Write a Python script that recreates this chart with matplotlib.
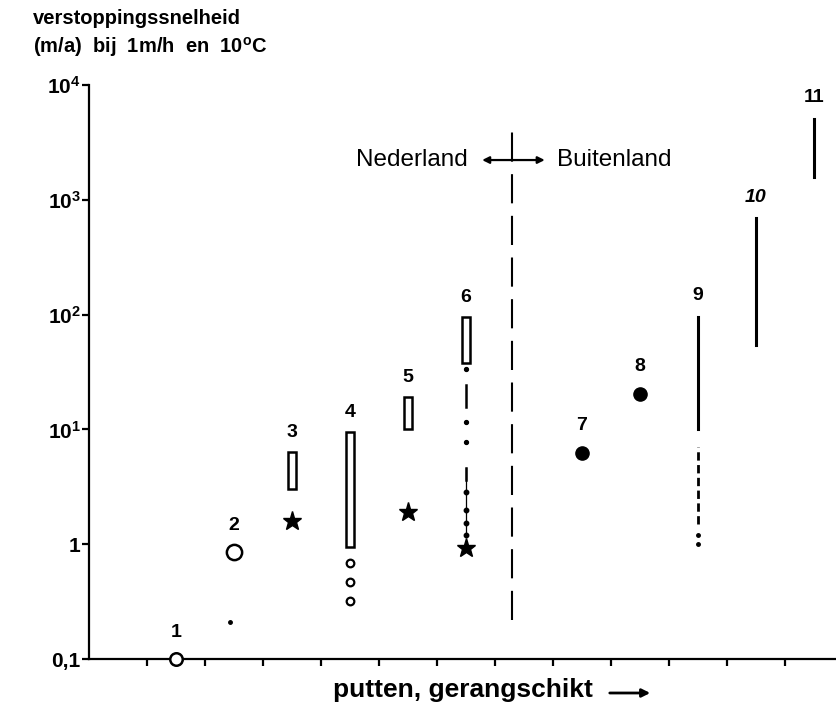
import numpy as np
import matplotlib
matplotlib.use('Agg')
import matplotlib.pyplot as plt

plt.rcParams['font.family'] = ['Liberation Sans', 'DejaVu Sans']
plt.rcParams['mathtext.fontset'] = 'custom'
plt.rcParams['mathtext.rm'] = 'Liberation Sans'
plt.rcParams['mathtext.bf'] = 'Liberation Sans:bold'
plt.rcParams['mathtext.default'] = 'bf'

# --- data (m/a), wells ranked 1..11 ---
wells = list(range(1, 12))
# slot on the ranked x axis (one empty slot between NL and abroad)
well_slot = [1, 2, 3, 4, 5, 6, 8, 9, 10, 11, 12]
slot = dict(zip(wells, well_slot))

# open bars: range of clogging rate
bar_wells = [3, 4, 5, 6]
bar_low = [3.0, 0.95, 10.0, 38.0]
bar_high = [6.3, 9.5, 19.0, 96.0]

# solid ranges (foreign wells)
line_wells = [9, 10, 11]
line_low = [10.0, 54.0, 1590.0]
line_high = [96.0, 690.0, 5100.0]

open_circle_wells = [1, 2]
open_circle_vals = [0.1, 0.85]
filled_wells = [7, 8]
filled_vals = [6.2, 20.3]
star_wells = [3, 5, 6]
star_vals = [1.6, 1.9, 0.93]
small_circle_vals_4 = [0.69, 0.47, 0.32]
dot_val_2 = 0.21

# well 6 lower tail
w6_dots = [33.6, 11.6, 7.8]
w6_dash_a = [15.7, 24.4]
w6_dash_b = [3.6, 4.6]
w6_beads = [2.85, 2.0, 1.53, 1.2]

# well 9 lower tail
w9_dash = [1.5, 7.0]
w9_dots = [1.2, 1.0]

yticks = [0.1, 1, 10, 100, 1000, 10000]
ytick_labels = ['0,1', '1', r'$10^{1}$', r'$10^{2}$', r'$10^{3}$', r'$10^{4}$']


def xpos(w):
    return slot[w] + 0.5


fig = plt.figure(figsize=(8.37, 7.09), dpi=100)
ax = fig.add_axes([89 / 837, 50 / 709, 748 / 837, 574 / 709])
ax.set_yscale('log')
ax.set_ylim(0.1, 10000)
ax.set_xlim(0, 12.9)

for s in ['top', 'right']:
    ax.spines[s].set_visible(False)
for s in ['left', 'bottom']:
    ax.spines[s].set_linewidth(1.6)

ax.set_yticks(yticks)
ax.set_yticklabels(ytick_labels, fontsize=15, fontweight='bold')
ax.yaxis.set_minor_locator(matplotlib.ticker.NullLocator())
ax.set_xticks(range(1, 13))
ax.set_xticklabels([])
ax.tick_params(axis='both', direction='out', length=5, width=1.6, pad=1)

# open bars
ax.bar([xpos(w) for w in bar_wells], np.array(bar_high) - np.array(bar_low),
       bottom=bar_low, width=0.15, facecolor='white', edgecolor='black',
       linewidth=1.8, zorder=3)

# solid vertical lines
for w, lo, hi in zip(line_wells, line_low, line_high):
    ax.plot([xpos(w)] * 2, [lo, hi], color='black', lw=2.2, zorder=3)

# markers
for w, v, ms in zip(open_circle_wells, open_circle_vals, [9, 11]):
    ax.plot([xpos(w)], [v], 'o', ms=ms, mfc='white', mec='black', mew=1.8,
            clip_on=False, zorder=4)
ax.plot([xpos(w) for w in filled_wells], filled_vals, 'o', ms=9.5,
        color='black', ls='none', zorder=4)
ax.plot([xpos(w) for w in star_wells], star_vals, '*', ms=14,
        color='black', ls='none', zorder=4)
ax.plot([xpos(4)] * 3, small_circle_vals_4, 'o', ms=5.5, mfc='white',
        mec='black', mew=1.6, ls='none', zorder=4)
ax.plot([xpos(2) - 0.07], [dot_val_2], 'o', ms=2.5, color='black', zorder=4)

# well 6 tail
x6 = xpos(6)
ax.plot([x6] * 3, w6_dots, 'o', ms=2.8, color='black', ls='none')
ax.plot([x6, x6], w6_dash_a, color='black', lw=1.8)
ax.plot([x6, x6], [w6_dash_b[1], w6_beads[-1]], color='black', lw=0.9)
ax.plot([x6, x6], w6_dash_b, color='black', lw=1.8)
ax.plot([x6] * 4, w6_beads, 'o', ms=3.2, color='black', ls='none')

# well 9 tail
x9 = xpos(9)
ax.plot([x9, x9], w9_dash, color='black', lw=2, dashes=(3, 1.6))
ax.plot([x9] * 2, w9_dots, 'o', ms=2.5, color='black', ls='none')

# well numbers above each mark
tops = {}
for w, v in zip(open_circle_wells, open_circle_vals):
    tops[w] = (v, 19)
for w, v in zip(filled_wells, filled_vals):
    tops[w] = (v, 20)
for w, v in zip(bar_wells, bar_high):
    tops[w] = (v, 14)
for w, v in zip(line_wells, line_high):
    tops[w] = (v, 15)
for w in wells:
    v, off = tops[w]
    ax.annotate(str(w), (xpos(w), v), xytext=(0, off), textcoords='offset points',
                ha='center', va='center', fontsize=14, fontweight='bold',
                style='italic' if w == 10 else 'normal', annotation_clip=False)

# divider Nederland / Buitenland
ax.plot([7.3, 7.3], [0.22, 4050], color='black', lw=1.5, dashes=(14, 6))
ax.text(6.53, 2220, 'Nederland', ha='right', va='center', fontsize=17.5)
ax.annotate('', xy=(6.78, 2220), xytext=(7.86, 2220),
            arrowprops=dict(arrowstyle='<|-|>', color='black', lw=1.6,
                            mutation_scale=10, shrinkA=0, shrinkB=0))
ax.text(8.07, 2220, 'Buitenland', ha='left', va='center', fontsize=17.5)

# axis titles
fig.text(33 / 837, 1 - 18 / 709, 'verstoppingssnelheid', ha='left', va='center',
         fontsize=14.5, fontweight='bold')
fig.text(33 / 837, 1 - 47 / 709, r'(m/a)  bij  1m/h  en  10$^{o}$C', ha='left',
         va='center', fontsize=14.5, fontweight='bold')
fig.text(333 / 837, 1 - 690 / 709, 'putten, gerangschikt', ha='left', va='center',
         fontsize=19, fontweight='bold')
fig.add_artist(matplotlib.patches.FancyArrowPatch(
    (607 / 837, 1 - 693 / 709), (653 / 837, 1 - 693 / 709),
    transform=fig.transFigure, arrowstyle='-|>', mutation_scale=12,
    color='black', lw=2))

fig.savefig('out.png', dpi=100)
